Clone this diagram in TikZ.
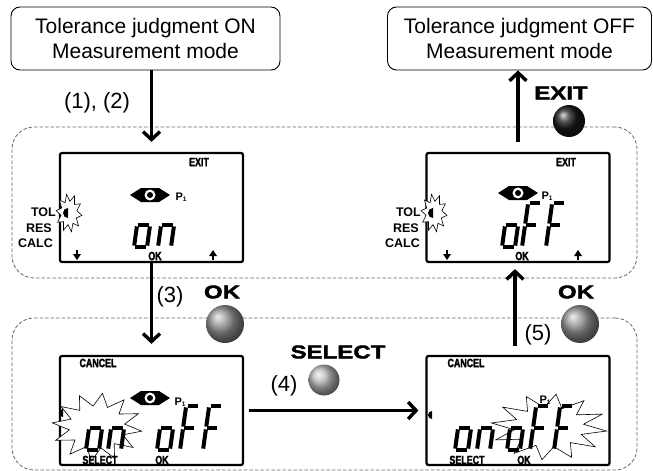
\documentclass[tikz,border=0pt]{standalone}
\usepackage{fontspec}
\setmainfont{Liberation Sans}
\newfontface\btnface{Liberation Sans Bold}[FakeBold=2.2, FakeStretch=1.3]
\newfontface\lcdface{Liberation Sans Bold}[FakeBold=2, FakeStretch=0.74]
\usetikzlibrary{arrows.meta,shadings}
\tikzset{
  grp/.style={draw=black!60, dash pattern=on 3.5pt off 2pt, line width=0.8pt, rounded corners=22pt, inner sep=0pt},
  topbox/.style={draw, line width=0.9pt, rounded corners=9pt, fill=white, align=center, inner sep=0pt,
                 font=\fontsize{21}{25}\selectfont},
  lcd/.style={draw, line width=2.2pt, rounded corners=2pt, fill=white, inner sep=0pt,
              minimum width=183pt, minimum height=109pt},
  arr/.style={line width=3.4pt, -{Straight Barb[length=8pt,width=17pt]}},
  seg/.style={line width=4pt, shorten <=1.4pt, shorten >=1.4pt},
  burstst/.style={draw, fill=white, line width=0.6pt, line join=miter},
  lbl/.style={font=\fontsize{22}{22}\selectfont, inner sep=0pt},
  btn/.style={font=\btnface\fontsize{18.5}{18.5}\selectfont, inner sep=0pt},
  smalltxt/.style={font=\lcdface\fontsize{12}{12}\selectfont, inner sep=0pt},
  side/.style={font=\bfseries\fontsize{12.5}{12.5}\selectfont, inner sep=0pt, anchor=east},
  pone/.style={font=\bfseries\fontsize{11}{11}\selectfont, inner sep=0pt},
}
% seven segment pieces
\newcommand\segm[4]{\draw[seg] (#1,#2) -- (#3,#4);}
\newcommand\digO[2]{\begin{scope}[shift={(#1,#2)},xslant=0.14]
  \segm{0}{-22}{13}{-22}\segm{13}{-22}{13}{0}\segm{0}{0}{13}{0}\segm{0}{-22}{0}{0}\end{scope}}
\newcommand\digN[2]{\begin{scope}[shift={(#1,#2)},xslant=0.14]
  \segm{0}{-22}{13}{-22}\segm{13}{-22}{13}{0}\segm{0}{-22}{0}{0}\end{scope}}
\newcommand\digF[2]{\begin{scope}[shift={(#1,#2)},xslant=0.14]
  \segm{0}{-44}{13}{-44}\segm{0}{-44}{0}{-22}\segm{0}{-22}{12}{-22}\segm{0}{-22}{0}{0}\end{scope}}
% eye icon
\newcommand\eyeicon[2]{\begin{scope}[shift={(#1,#2)}]
  \fill (-20,0) -- (-9,-7) -- (9,-7) -- (20,0) -- (9,7) -- (-9,7) -- cycle;
  \fill[white] (0,0) circle (5.5pt); \fill (0,0) circle (3pt);\end{scope}}
% star burst: cx cy rx ry ratio lastindex
\newcommand\burst[6]{\filldraw[burstst] plot[samples at={0,...,#6}, variable=\vv]
  ({#1+#3*(1-(1-#5)*mod(\vv,2))*cos(\vv*360/(#6+1)+7)},
   {#2+#4*(1-(1-#5)*mod(\vv,2))*sin(\vv*360/(#6+1)+7)}) -- cycle;}
% half disc marker
\newcommand\hdisc[3]{\fill (#1,#2) ++(0,-#3) arc[start angle=90,end angle=270,radius=#3pt] -- cycle;}
% small arrows
\newcommand\dnar[2]{\fill (#1-4,#2-1) -- (#1+4,#2-1) -- (#1,#2+5) -- cycle;
  \fill (#1-1.3,#2-5) rectangle (#1+1.3,#2-0.5);}
\newcommand\upar[2]{\fill (#1-4,#2+1) -- (#1+4,#2+1) -- (#1,#2-5) -- cycle;
  \fill (#1-1.3,#2+0.5) rectangle (#1+1.3,#2+5);}
\begin{document}
\begin{tikzpicture}[x=1pt,y=-1pt]
\useasboundingbox (0,0) rectangle (653,471);
% dashed groups
\node[grp, minimum width=625pt, minimum height=151pt] (g1) at (324.5,202.5) {};
\node[grp, minimum width=625pt, minimum height=152pt] (g2) at (324.5,394) {};
% top boxes
\node[topbox, minimum width=269pt, minimum height=63pt] (topL) at (145.5,38.5)
  {Tolerance judgment ON\\Measurement mode};
\node[topbox, minimum width=264pt, minimum height=63pt] (topR) at (519.5,38.5)
  {Tolerance judgment OFF\\Measurement mode};
% LCDs
\node[lcd] (lcd1) at (151.5,207.5) {};
\node[lcd] (lcd2) at (518,207.5) {};
\node[lcd] (lcd3) at (151.5,410.5) {};
\node[lcd] (lcd4) at (518,410.5) {};

% ---- LCD1
\burst{69}{213}{13}{19}{0.62}{19}
\hdisc{68}{213}{5}
\node[smalltxt] (l1exit) at (199,162) {EXIT};
\eyeicon{150}{195}
\node[pone] (l1p) at (181,197) {P\raisebox{-1.5pt}{\fontsize{6.5}{6.5}\selectfont 1}};
\digO{134}{247}\digN{158}{247}
\dnar{77}{255}\upar{213}{255}
\node[smalltxt] (l1ok) at (155,256) {OK};
\node[side] (l1tol) at (56,212) {TOL};
\node[side] (l1res) at (52,228) {RES};
\node[side] (l1calc) at (53,243) {CALC};

% ---- LCD2
\burst{434}{213}{13}{19}{0.62}{19}
\hdisc{433}{213}{5}
\node[smalltxt] (l2exit) at (566,162) {EXIT};
\eyeicon{518}{193}
\node[pone] (l2p) at (547,196) {P\raisebox{-1.5pt}{\fontsize{6.5}{6.5}\selectfont 1}};
\digO{502}{247}\digF{522}{247}\digF{546}{247}
\dnar{447}{255}\upar{578}{255}
\node[smalltxt] (l2ok) at (522,256) {OK};
\node[side] (l2tol) at (421,212) {TOL};
\node[side] (l2res) at (419,228) {RES};
\node[side] (l2calc) at (420,243) {CALC};

% ---- LCD3
\node[smalltxt] (l3cancel) at (98,363) {CANCEL};
\eyeicon{150}{398}
\node[pone] (l3p) at (180,402) {P\raisebox{-1.5pt}{\fontsize{6.5}{6.5}\selectfont 1}};
\burst{97}{427}{45}{34}{0.62}{23}
\hdisc{63}{413}{4}
\digO{86}{450}\digN{108}{450}
\digO{157}{450}\digF{180}{450}\digF{203}{450}
\node[smalltxt] (l3sel) at (100,460) {SELECT};
\node[smalltxt] (l3ok) at (162,460) {OK};

% ---- LCD4
\node[smalltxt] (l4cancel) at (466,363) {CANCEL};
\burst{549}{427}{58}{33}{0.6}{23}
\node[pone] (l4p) at (545,400) {P\raisebox{-1.5pt}{\fontsize{6.5}{6.5}\selectfont 1}};
\hdisc{432}{415}{4}
\digO{455}{450}\digN{477}{450}
\digO{507}{450}\digF{530}{450}\digF{554}{450}
\node[smalltxt] (l4sel) at (467,460) {SELECT};
\node[smalltxt] (l4ok) at (524,460) {OK};

% ---- arrows
\draw[arr] (lcd1.north |- topL.south) -- ([yshift=10pt]lcd1.north);
\draw[arr] ([yshift=10pt]lcd2.north) -- (lcd2.north |- topR.south);
\draw[arr] (lcd1.south) -- ([yshift=11pt]lcd3.north);
\draw[arr] ([xshift=5pt]lcd3.east) -- ([xshift=-7pt]lcd4.west);
\draw[arr] ([xshift=-3pt,yshift=9pt]lcd4.north) -- ([xshift=-3pt,yshift=-6pt]lcd2.south);

% ---- buttons
\shade[ball color=black!90] (569,121) circle (16pt);
\shade[ball color=gray!85] (225,324) circle (19pt);
\shade[ball color=gray!55] (324,380) circle (15.5pt);
\shade[ball color=gray!85] (580,324) circle (19pt);

% ---- labels
\node[lbl] (t12) at (97,103) {(1), (2)};
\node[lbl] (t3) at (170,297) {(3)};
\node[lbl] (t4) at (284,386) {(4)};
\node[lbl] (t5) at (538,335) {(5)};
\node[btn] (bexit) at (561,93) {EXIT};
\node[btn] (bok1) at (222,292) {OK};
\node[btn] (bsel) at (338,352) {SELECT};
\node[btn] (bok2) at (576,292) {OK};
\end{tikzpicture}
\end{document}
